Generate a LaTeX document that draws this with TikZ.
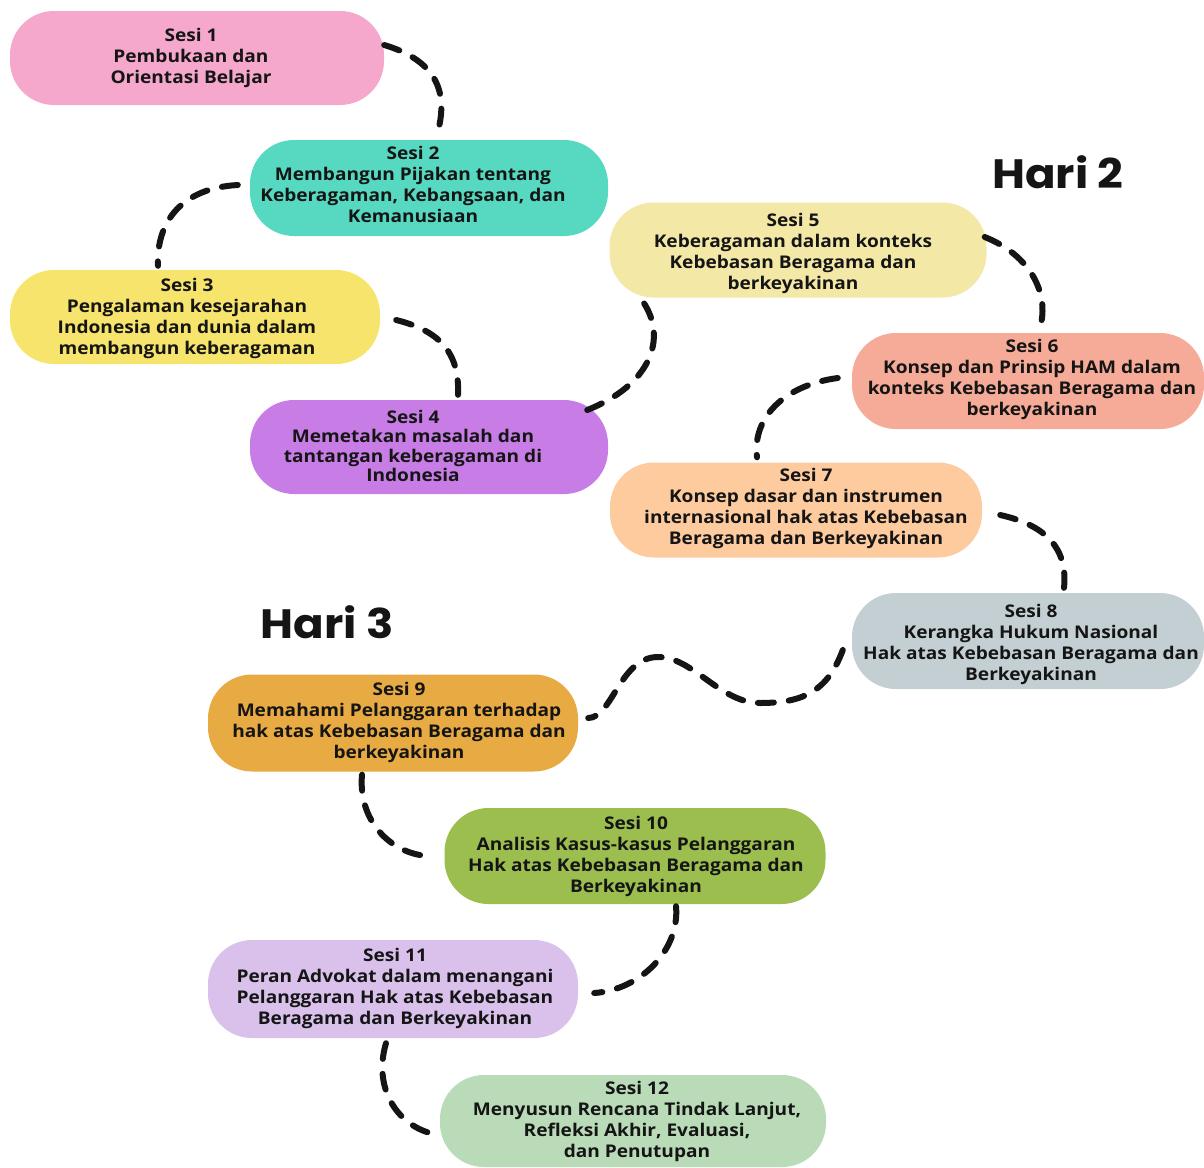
\documentclass[tikz,border=0pt]{standalone}
\usepackage{fontspec}
\setmainfont{Open Sans}[FakeStretch=1.09]
\newfontfamily\harifont{Poppins}[FakeStretch=1.1]

\definecolor{pinkA}{HTML}{F5A8CC}
\definecolor{tealA}{HTML}{56D9C0}
\definecolor{yellowA}{HTML}{F7E46C}
\definecolor{purpleA}{HTML}{C77DE5}
\definecolor{creamA}{HTML}{F3E8A6}
\definecolor{salmonA}{HTML}{F5AB97}
\definecolor{peachA}{HTML}{FECB9F}
\definecolor{greyA}{HTML}{C3CFD3}
\definecolor{orangeA}{HTML}{E8AA42}
\definecolor{greenA}{HTML}{9BBE4F}
\definecolor{lilacA}{HTML}{D9C1EC}
\definecolor{mintA}{HTML}{B9DBB7}
\definecolor{inkA}{HTML}{151515}

\begin{document}
\begin{tikzpicture}[x=1pt,y=-1pt]
  \useasboundingbox (0,0) rectangle (1204,1167);

  \tikzstyle{blob} = [rectangle, rounded corners=44pt, minimum height=94pt, inner sep=0pt]
  \tikzstyle{sesi} = [align=center, inner sep=0pt, text=inkA,
    font=\fontsize{17.5}{21}\selectfont\bfseries]
  \tikzstyle{road} = [inkA, line width=6pt, line cap=round,
    dash pattern=on 16pt off 15pt]
  \tikzstyle{hari} = [inkA, font=\harifont\fontsize{41}{41}\selectfont\bfseries]

  % day labels
  \node[hari] (hari2) at (1058,172) {Hari 2};
  \node[hari] (hari3) at (327,622) {Hari 3};

  % blobs
  \node[blob, fill=pinkA, minimum width=374pt] (s1) at (197,58) {};
  \node[blob, fill=tealA, minimum width=358pt, minimum height=96pt] (s2) at (429,188) {};
  \node[blob, fill=yellowA, minimum width=370pt] (s3) at (195,317) {};
  \node[blob, fill=purpleA, minimum width=358pt] (s4) at (429,447) {};
  \node[blob, fill=creamA, minimum width=377pt, minimum height=95pt] (s5) at (798,250) {};
  \node[blob, fill=salmonA, minimum width=352pt, minimum height=96pt] (s6) at (1028,381) {};
  \node[blob, fill=peachA, minimum width=372pt, minimum height=95pt] (s7) at (796,510) {};
  \node[blob, fill=greyA, minimum width=352pt, minimum height=96pt] (s8) at (1028,641) {};
  \node[blob, fill=orangeA, minimum width=370pt, minimum height=97pt] (s9) at (393,723) {};
  \node[blob, fill=greenA, minimum width=381pt, minimum height=96pt] (s10) at (635,856) {};
  \node[blob, fill=lilacA, minimum width=370pt, minimum height=98pt] (s11) at (393,989) {};
  \node[blob, fill=mintA, minimum width=386pt, minimum height=92pt] (s12) at (633,1121) {};

  % session texts
  \node[sesi] (t1) at ([xshift=-6pt]s1)
    {Sesi 1\\Pembukaan dan\\Orientasi Belajar};
  \node[sesi] (t2) at ([xshift=-16pt,yshift=4pt]s2)
    {Sesi 2\\Membangun Pijakan tentang\\Keberagaman, Kebangsaan, dan\\Kemanusiaan};
  \node[sesi] (t3) at ([xshift=-8pt,yshift=-1pt]s3)
    {Sesi 3\\Pengalaman kesejarahan\\Indonesia dan dunia dalam\\membangun keberagaman};
  \node[sesi, font=\fontsize{17.5}{19.5}\selectfont\bfseries] (t4) at ([xshift=-16pt,yshift=1pt]s4)
    {Sesi 4\\Memetakan masalah dan\\tantangan keberagaman di\\Indonesia};
  \node[sesi] (t5) at ([xshift=-5pt,yshift=-3pt]s5)
    {Sesi 5\\Keberagaman dalam konteks\\Kebebasan Beragama dan\\berkeyakinan};
  \node[sesi] (t6) at ([xshift=4pt,yshift=2pt]s6)
    {Sesi 6\\Konsep dan Prinsip HAM dalam\\konteks Kebebasan Beragama dan\\berkeyakinan};
  \node[sesi] (t7) at ([xshift=10pt,yshift=2pt]s7)
    {Sesi 7\\Konsep dasar dan instrumen\\internasional hak atas Kebebasan\\Beragama dan Berkeyakinan};
  \node[sesi] (t8) at ([xshift=3pt,yshift=-3pt]s8)
    {Sesi 8\\Kerangka Hukum Nasional\\Hak atas Kebebasan Beragama dan\\Berkeyakinan};
  \node[sesi] (t9) at ([xshift=6pt,yshift=1pt]s9)
    {Sesi 9\\Memahami Pelanggaran terhadap\\hak atas Kebebasan Beragama dan\\berkeyakinan};
  \node[sesi] (t10) at ([xshift=1pt]s10)
    {Sesi 10\\Analisis Kasus-kasus Pelanggaran\\Hak atas Kebebasan Beragama dan\\Berkeyakinan};
  \node[sesi] (t11) at ([xshift=2pt,yshift=1pt]s11)
    {Sesi 11\\Peran Advokat dalam menangani\\Pelanggaran Hak atas Kebebasan\\Beragama dan Berkeyakinan};
  \node[sesi] (t12) at ([xshift=4pt]s12)
    {Sesi 12\\Menyusun Rencana Tindak Lanjut,\\Refleksi Akhir, Evaluasi,\\dan Penutupan};

  % dashed road between sessions
  \draw[road] ([yshift=13pt]s1.east) .. controls +(50,15) and +(13,-45) .. ([xshift=8pt,yshift=5pt]s2.north);
  \draw[road] ([xshift=-12pt,yshift=3pt]s2.west) .. controls +(-55,3) and +(-2,-45) .. ([xshift=-37pt,yshift=4pt]s3.north);
  \draw[road] ([xshift=16pt,yshift=-3pt]s3.east) .. controls +(40,10) and +(2,-45) .. ([xshift=29pt,yshift=5pt]s4.north);
  \draw[road] ([xshift=-21pt,yshift=37pt]s4.east) .. controls +(63,-25) and +(25,37) .. ([xshift=-155pt,yshift=-4pt]s5.south);
  \draw[road] ([xshift=-2pt,yshift=13pt]s5.east) .. controls +(45,18) and +(10,-35) .. ([xshift=12pt,yshift=5pt]s6.north);
  \draw[road] ([xshift=-14pt,yshift=3pt]s6.west) .. controls +(-53,7) and +(-5,-40) .. ([xshift=-39pt,yshift=5pt]s7.north);
  \draw[road] ([xshift=18pt,yshift=-5pt]s7.east) .. controls +(45,10) and +(4,-40) .. ([xshift=36pt,yshift=5pt]s8.north);

  % the wavy stretch from day 2 into day 3
  \coordinate (dip) at (760,703);
  \coordinate (bump) at (658,657);
  \draw[road] ([xshift=-9pt,yshift=-9pt]s8.west) .. controls +(-15,40) and +(45,0) .. (dip)
    .. controls +(-40,0) and +(35,0) .. (bump)
    .. controls +(-38,0) and +(24,0) .. ([xshift=10pt,yshift=5pt]s9.east);

  \draw[road] ([xshift=-31pt,yshift=-3pt]s9.south) .. controls +(-4,45) and +(-38,-3) .. ([xshift=-17pt]s10.west);
  \draw[road] ([xshift=41pt,yshift=-2pt]s10.south) .. controls +(4,44) and +(46,-3) .. ([xshift=16pt,yshift=-4pt]s11.east);
  \draw[road] ([xshift=-7pt,yshift=-5pt]s11.south) .. controls +(-14,47) and +(-40,-5) .. ([yshift=-14pt]s12.west);
\end{tikzpicture}
\end{document}
